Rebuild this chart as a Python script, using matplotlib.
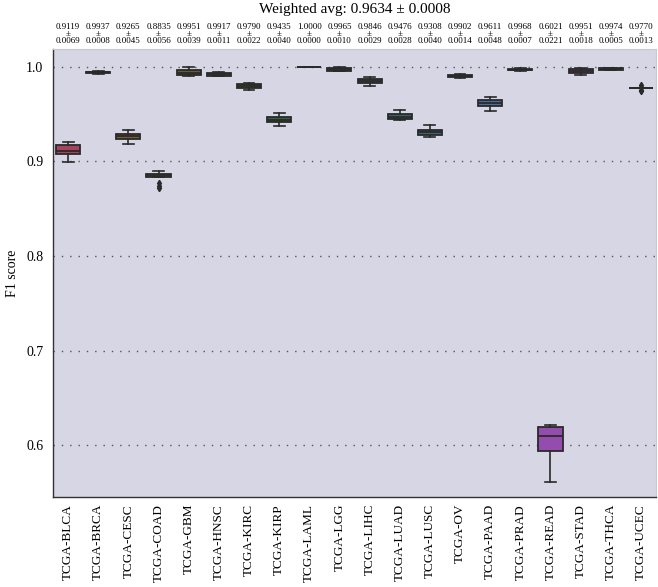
import numpy as np
import matplotlib
matplotlib.use('Agg')
import matplotlib.pyplot as plt
import seaborn as sns

# 데이터
cohorts = ['TCGA-BLCA', 'TCGA-BRCA', 'TCGA-CESC', 'TCGA-COAD', 'TCGA-GBM',
           'TCGA-HNSC', 'TCGA-KIRC', 'TCGA-KIRP', 'TCGA-LAML', 'TCGA-LGG',
           'TCGA-LIHC', 'TCGA-LUAD', 'TCGA-LUSC', 'TCGA-OV', 'TCGA-PAAD',
           'TCGA-PRAD', 'TCGA-READ', 'TCGA-STAD', 'TCGA-THCA', 'TCGA-UCEC']
mean_f1 = [0.9119, 0.9937, 0.9265, 0.8835, 0.9951, 0.9917, 0.9790, 0.9435, 1.0000, 0.9965,
           0.9846, 0.9476, 0.9308, 0.9902, 0.9611, 0.9968, 0.6021, 0.9951, 0.9974, 0.9770]
std_f1 = [0.0069, 0.0008, 0.0045, 0.0056, 0.0039, 0.0011, 0.0022, 0.0040, 0.0000, 0.0010,
          0.0029, 0.0028, 0.0040, 0.0014, 0.0048, 0.0007, 0.0221, 0.0018, 0.0005, 0.0013]

# 박스 통계
whislo = [0.8994, 0.9925, 0.9178, 0.8835, 0.9900, 0.9895, 0.9755, 0.9370, 1.0000, 0.9950,
          0.9795, 0.9440, 0.9252, 0.9880, 0.9530, 0.9955, 0.5610, 0.9912, 0.9965, 0.9770]
q1 = [0.9080, 0.9930, 0.9240, 0.8830, 0.9910, 0.9900, 0.9770, 0.9410, 1.0000, 0.9955,
      0.9830, 0.9450, 0.9280, 0.9890, 0.9580, 0.9962, 0.5940, 0.9936, 0.9968, 0.9770]
median = [0.9106, 0.9937, 0.9270, 0.8850, 0.9930, 0.9918, 0.9790, 0.9436, 1.0000, 0.9970,
          0.9850, 0.9470, 0.9310, 0.9900, 0.9614, 0.9968, 0.6100, 0.9955, 0.9974, 0.9770]
q3 = [0.9170, 0.9942, 0.9290, 0.8870, 0.9960, 0.9932, 0.9816, 0.9465, 1.0000, 0.9980,
      0.9870, 0.9494, 0.9334, 0.9910, 0.9646, 0.9975, 0.6195, 0.9976, 0.9980, 0.9770]
whishi = [0.9206, 0.9950, 0.9330, 0.8894, 1.0000, 0.9947, 0.9830, 0.9510, 1.0000, 0.9993,
          0.9887, 0.9536, 0.9383, 0.9922, 0.9680, 0.9980, 0.6220, 0.9986, 0.9989, 0.9770]
fliers = [[], [], [], [0.8770, 0.8742, 0.8715], [], [], [], [], [], [],
          [], [], [], [], [], [], [], [], [], [0.9785, 0.9800, 0.9755, 0.9740]]

weighted_avg = 0.9634
weighted_std = 0.0008

plt.rcParams['font.family'] = ['Liberation Serif', 'DejaVu Serif']

fig = plt.figure(figsize=(6.58, 5.87), dpi=100)
ax = fig.add_axes([53 / 658, 90 / 587, 603 / 658, 448 / 587])
ax.set_facecolor('#d6d6e4')

palette = sns.husl_palette(len(cohorts), l=0.45, s=0.9)
colors = [sns.desaturate(c, 0.6) for c in palette]

stats = []
for i in range(len(cohorts)):
    stats.append(dict(med=median[i], q1=q1[i], q3=q3[i], whislo=whislo[i],
                      whishi=whishi[i], fliers=fliers[i]))

line_c = '#2a2a2a'
bp = ax.bxp(stats, positions=np.arange(len(cohorts)), widths=0.8, capwidths=0.36,
            patch_artist=True, showfliers=True,
            boxprops=dict(edgecolor=line_c, linewidth=1.3),
            medianprops=dict(color=line_c, linewidth=1.3),
            whiskerprops=dict(color=line_c, linewidth=1.2),
            capprops=dict(color=line_c, linewidth=1.2),
            flierprops=dict(marker='d', markersize=3.2, markerfacecolor=line_c,
                            markeredgecolor=line_c))
for patch, c in zip(bp['boxes'], colors):
    patch.set_facecolor(c)

ax.set_xlim(-0.5, len(cohorts) - 0.5)
ax.set_ylim(0.5455, 1.0185)
ax.set_yticks([0.6, 0.7, 0.8, 0.9, 1.0])
ax.set_yticklabels(['0.6', '0.7', '0.8', '0.9', '1.0'], fontsize=10)
ax.set_xticks(np.arange(len(cohorts)))
ax.set_xticklabels(cohorts, rotation=90, fontsize=9.5)
ax.tick_params(axis='y', length=0, pad=7)
ax.tick_params(axis='x', length=0, pad=5)
ax.yaxis.grid(True, linestyle=(0, (1, 5)), color='#555555', linewidth=1.0)
ax.set_axisbelow(True)
ax.set_ylabel('F1 score', fontsize=10, labelpad=5)

for side in ['left', 'bottom']:
    ax.spines[side].set_color('#333333')
    ax.spines[side].set_linewidth(1.0)
for side in ['top', 'right']:
    ax.spines[side].set_color('#c8c8d0')
    ax.spines[side].set_linewidth(0.8)

# 각 코호트 평균 ± 표준편차
for i in range(len(cohorts)):
    ax.annotate(f'{mean_f1[i]:.4f}\n±\n{std_f1[i]:.4f}', xy=(i, 1.0),
                xycoords=('data', 'axes fraction'), xytext=(0, 3), textcoords='offset points',
                ha='center', va='bottom', fontsize=6.5, linespacing=0.86)

fig.text((53 + 656) / 2 / 658, 1 - 9 / 587, f'Weighted avg: {weighted_avg:.4f} ± {weighted_std:.4f}',
         ha='center', va='center', fontsize=11)

fig.savefig('out.png', dpi=100)
